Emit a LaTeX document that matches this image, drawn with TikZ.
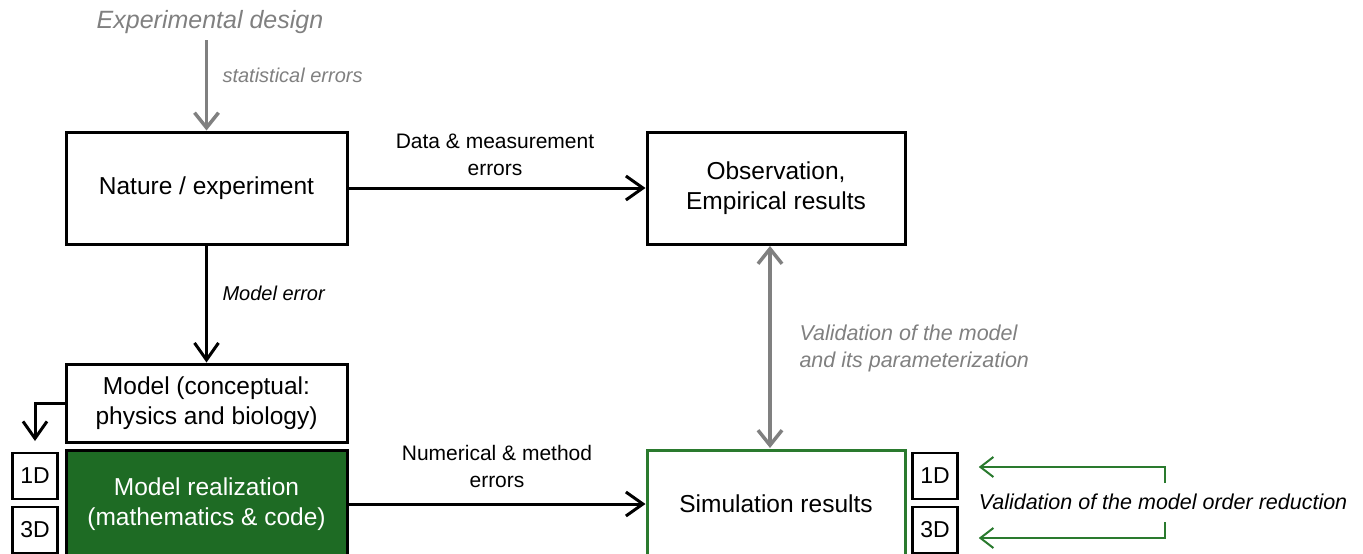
\documentclass[tikz,border=0pt]{standalone}
\usepackage{fontspec}
\setmainfont{Liberation Sans}
\usetikzlibrary{arrows.meta,calc}
\definecolor{dgreen}{HTML}{1E6B24}
\definecolor{lgreen}{HTML}{2A7A2E}
\definecolor{mgray}{HTML}{808080}
\begin{document}
\begin{tikzpicture}[x=1pt,y=-1pt,
  box/.style={draw=black,line width=3pt,fill=white,minimum width=281pt,align=center,font=\fontsize{24.5}{30}\selectfont,inner sep=0pt},
  dimbox/.style={draw=black,line width=2.5pt,fill=white,minimum width=45pt,minimum height=46pt,font=\fontsize{23}{26}\selectfont,inner sep=0pt},
  lab/.style={font=\fontsize{21}{27}\selectfont,align=center},
  glab/.style={font=\fontsize{21.5}{27}\selectfont\itshape,text=mgray,align=left},
  arr/.style={line width=3pt,-{Straight Barb[length=17pt,width=24pt,line width=3pt]}},
  garr/.style={line width=3.5pt,draw=mgray,-{Straight Barb[length=15pt,width=24pt,line width=3.5pt]}},
  grarr/.style={line width=2pt,draw=lgreen,-{Straight Barb[length=13pt,width=20pt,line width=2pt]}}
]
\useasboundingbox (0,0) rectangle (1363,554);
% boxes
\node[box,minimum height=112pt] (nat) at (206.5,188) {Nature / experiment};
\node[box,minimum width=258pt,minimum height=112pt] (obs) at (776,188) {Observation,\\Empirical results};
\node[box,minimum height=78pt] (mod) at (206.5,403) {Model (conceptual:\\physics and biology)};
\node[box,fill=dgreen,text=white,minimum height=108pt] (real) at (206.5,504) {Model realization\\(mathematics \& code)};
\node[box,draw=lgreen,minimum width=258pt,minimum height=108pt] (sim) at (776,504) {Simulation results};
\node[dimbox] (l1) at (35,476) {1D};
\node[dimbox] (l3) at (35,530) {3D};
\node[dimbox] (r1) at (935,476) {1D};
\node[dimbox] (r3) at (935,530) {3D};
% top
\node[font=\fontsize{25}{30}\selectfont\itshape,text=mgray] (exp) at (210,22) {Experimental design};
\coordinate (e0) at (206.5,40);
\draw[garr] (e0) -- (nat.north);
\node[glab,font=\fontsize{20}{24}\selectfont\itshape,anchor=west] (stat) at (219,75) {statistical errors};
% arrows
\draw[arr] (nat.east) -- (obs.west);
\node[lab] (dme) at (495,155) {Data \& measurement\\errors};
\draw[arr] (nat.south) -- (mod.north);
\node[lab,font=\fontsize{20}{24}\selectfont\itshape,anchor=west] (merr) at (219,293) {Model error};
\coordinate (elb) at (35,403);
\coordinate (elbend) at (35,441);
\draw[arr] (mod.west) -- (elb) -- (elbend);
\draw[arr] (real.east) -- (sim.west);
\node[lab] (nme) at (497,466) {Numerical \& method\\errors};
\coordinate (v1) at (770,246);
\coordinate (v2) at (770,448);
\draw[garr,{Straight Barb[length=15pt,width=24pt,line width=3.5pt]}-{Straight Barb[length=15pt,width=24pt,line width=3.5pt]}] (v1) -- (v2);
\node[glab,anchor=west] (val) at (796,348) {Validation of the model\\and its parameterization};
% right
\node[font=\fontsize{21.5}{26}\selectfont\itshape] (vmor) at (1163,502) {Validation of the model order reduction};
\coordinate (g1) at (1165,483);
\coordinate (g3) at (1165,522);
\draw[grarr] (g1) -- (1165,467) -- ($(r1.east)+(20,-9)$);
\draw[grarr] (g3) -- (1165,538) -- ($(r3.east)+(20,8)$);
\end{tikzpicture}
\end{document}
